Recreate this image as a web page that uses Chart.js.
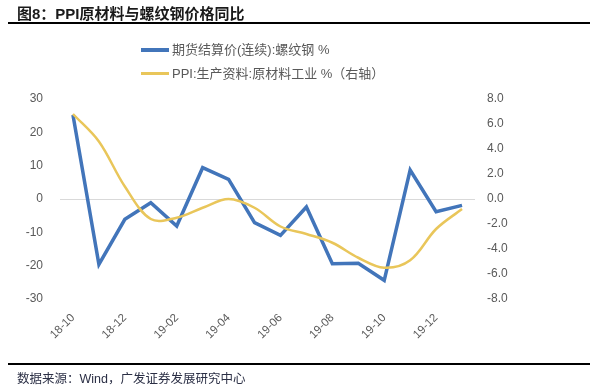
<!DOCTYPE html>
<html>
<head>
<meta charset="utf-8">
<script src="https://cdn.jsdelivr.net/npm/chart.js@4"></script>
<style>
  html, body { margin: 0; padding: 0; background: #fff; }
  body { width: 609px; height: 391px; position: relative; overflow: hidden;
         font-family: "Liberation Sans", "Noto Sans CJK SC", sans-serif; }
  #title { position: absolute; left: 17px; top: 2px; font-size: 15px; font-weight: bold;
           color: #1a1a1a; font-family: "Liberation Sans", "Noto Sans CJK SC", sans-serif; white-space: nowrap; }
  .rule { position: absolute; left: 8px; width: 582px; height: 2px; background: #000; }
  #source { position: absolute; left: 17px; top: 368px; font-size: 12.5px; color: #2b2f45; white-space: nowrap;
            font-family: "Liberation Sans", "Noto Sans CJK SC", sans-serif; }
  #legend { position: absolute; left: 141px; top: 40px; font-size: 13px; color: #595959; }
  .li { position: relative; height: 24px; line-height: 20px; white-space: nowrap; }
  .sw { display: inline-block; width: 28px; vertical-align: middle; margin-right: 3px; position: relative; top: -1px; }
  #chartwrap { position: absolute; left: 0; top: 0; width: 609px; height: 391px; }
</style>
</head>
<body>
<div id="chartwrap"><canvas id="c" width="609" height="391"></canvas></div>
<div id="title">图8：PPI原材料与螺纹钢价格同比</div>
<div class="rule" style="top:22px"></div>
<div id="legend"></div>
<div class="rule" style="top:363px"></div>
<div id="source">数据来源：Wind，广发证券发展研究中心</div>
<script>
const categories = ["18-10","18-11","18-12","19-01","19-02","19-03","19-04","19-05","19-06","19-07","19-08","19-09","19-10","19-11","19-12","20-01"];
const rebarValues = [25.2, -19.6, -6.1, -1.1, -8.1, 9.4, 5.9, -7.1, -10.9, -2.4, -19.4, -19.3, -24.4, 8.7, -3.8, -1.9];
const ppiValues = [6.8, 4.6, 1.0, -1.6, -1.5, -0.7, 0.0, -0.7, -2.2, -2.8, -3.5, -4.7, -5.5, -4.9, -2.4, -0.8];
const leftTicks = [-30, -20, -10, 0, 10, 20, 30];
const rightTicks = [-8, -6, -4, -2, 0, 2, 4, 6, 8];
const seriesNames = ["期货结算价(连续):螺纹钢 %", "PPI:生产资料:原材料工业 %（右轴）"];
const colors = ["#4275ba", "#e9c65a"];

// legend (HTML)
const lg = document.getElementById('legend');
seriesNames.forEach((n, i) => {
  const d = document.createElement('div');
  d.className = 'li';
  d.innerHTML = '<span class="sw" style="height:' + (i === 0 ? 4 : 3) + 'px;background:' + colors[i] + '"></span>' + n;
  lg.appendChild(d);
});

const tickFont = { family: "'Liberation Sans', 'Noto Sans CJK SC', sans-serif", size: 12 };
new Chart(document.getElementById('c'), {
  type: 'line',
  data: {
    labels: categories,
    datasets: [
      { label: seriesNames[0], data: rebarValues, borderColor: colors[0], backgroundColor: colors[0],
        borderWidth: 3.5, pointRadius: 0, tension: 0, yAxisID: 'y', order: 1 },
      { label: seriesNames[1], data: ppiValues, borderColor: colors[1], backgroundColor: colors[1],
        borderWidth: 2.5, pointRadius: 0, tension: 0.35, yAxisID: 'y1', order: 0 }
    ]
  },
  options: {
    responsive: false,
    animation: false,
    events: [],
    layout: { padding: { top: 99, left: 0, right: 0, bottom: 0 } },
    plugins: { legend: { display: false }, tooltip: { enabled: false }, title: { display: false } },
    scales: {
      x: {
        offset: true,
        grid: { display: false, drawTicks: false },
        border: { display: false },
        ticks: {
          autoSkip: false, minRotation: 45, maxRotation: 45, padding: 12,
          color: '#595959', font: { family: tickFont.family, size: 11.5 },
          callback: function(v, i) { return i % 2 === 0 ? categories[i] : ''; }
        },
        afterFit: function(s) { s.height = 92; }
      },
      y: {
        position: 'left', min: -30, max: 30,
        afterBuildTicks: function(s) { s.ticks = leftTicks.map(v => ({ value: v })); },
        grid: { drawTicks: false, lineWidth: 1,
                color: ctx => (ctx.tick && ctx.tick.value === 0) ? '#d9d9d9' : 'rgba(0,0,0,0)' },
        border: { display: false },
        ticks: { padding: 17, color: '#595959', font: tickFont },
        afterFit: function(s) { s.width = 60; }
      },
      y1: {
        position: 'right', min: -8, max: 8,
        afterBuildTicks: function(s) { s.ticks = rightTicks.map(v => ({ value: v })); },
        grid: { display: false, drawTicks: false },
        border: { display: false },
        ticks: { padding: 12, color: '#595959', font: tickFont,
                 callback: v => Number(v).toFixed(1) },
        afterFit: function(s) { s.width = 134; }
      }
    }
  }
});
</script>
</body>
</html>
